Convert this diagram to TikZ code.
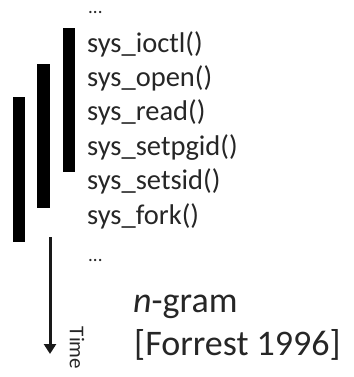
\documentclass[tikz,border=0pt]{standalone}
\usepackage{fontspec}
\setmainfont{Carlito}
\usetikzlibrary{arrows.meta}
\tikzset{
  call/.style={anchor=base west, inner sep=0pt, text=black!85, font=\fontsize{28.5}{34}\selectfont},
  dots/.style={anchor=base west, inner sep=0pt, text=black!85, font=\fontsize{19}{23}\selectfont},
  big/.style={anchor=base west, inner sep=0pt, text=black!85, font=\fontsize{36}{43}\selectfont},
  window/.style={fill=black},
}
\begin{document}
\begin{tikzpicture}[x=1pt, y=-1pt, line join=round, >={Triangle[length=10pt,width=12pt]}]
  \useasboundingbox (0,0) rectangle (353,377);
  % the three windows, shifted by one call each
  \fill[window] (63,28) rectangle (75,172);
  \fill[window] (37,64) rectangle (50,208);
  \fill[window] (13,97) rectangle (25,242);
  % trace of system calls
  \node[dots] (first) at (88,14) {...};
  \foreach \name/\y in {ioctl/53, open/87, read/121, setpgid/155, setsid/189, fork/224}
    \node[call] (\name) at (87,\y) {sys\_\name()};
  \node[dots] (last) at (88,261) {...};
  % time axis
  \coordinate (t0) at (50,237);
  \coordinate (t1) at (50,354);
  \draw[->, line width=3pt, black!90] (t0) -- (t1);
  \node[rotate=-90, inner sep=0pt, text=black!85, font=\fontsize{21}{25}\selectfont] (time) at (77,348) {Time};
  \node[big] (ngram) at (133,312) {\textit{n}-gram};
  \node[big] (cite) at (134,355) {[Forrest 1996]};
\end{tikzpicture}
\end{document}
